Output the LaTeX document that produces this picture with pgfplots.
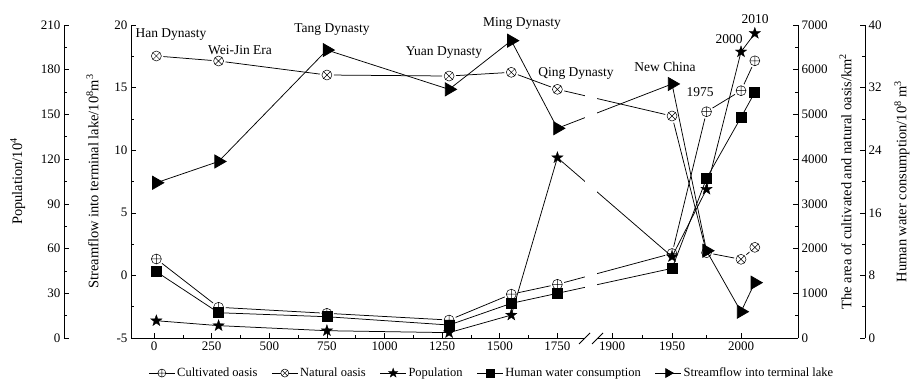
\documentclass[border=0pt]{standalone}
\usepackage{fontspec}
\setmainfont{Liberation Serif}
\usepackage{pgfplots}
\pgfplotsset{compat=1.18}
\usetikzlibrary{plotmarks}

\pgfdeclareplotmark{fstar}{%
  \pgfpathmoveto{\pgfpointpolar{90}{\pgfplotmarksize}}%
  \pgfpathlineto{\pgfpointpolar{126}{0.4\pgfplotmarksize}}%
  \pgfpathlineto{\pgfpointpolar{162}{\pgfplotmarksize}}%
  \pgfpathlineto{\pgfpointpolar{198}{0.4\pgfplotmarksize}}%
  \pgfpathlineto{\pgfpointpolar{234}{\pgfplotmarksize}}%
  \pgfpathlineto{\pgfpointpolar{270}{0.4\pgfplotmarksize}}%
  \pgfpathlineto{\pgfpointpolar{306}{\pgfplotmarksize}}%
  \pgfpathlineto{\pgfpointpolar{342}{0.4\pgfplotmarksize}}%
  \pgfpathlineto{\pgfpointpolar{18}{\pgfplotmarksize}}%
  \pgfpathlineto{\pgfpointpolar{54}{0.4\pgfplotmarksize}}%
  \pgfpathclose
  \pgfusepathqfillstroke
}

\pgfplotsset{
  common/.style={
    scale only axis, width=667pt, height=313pt,
    at={(131pt,-338pt)}, anchor=south west,
    xmin=-100, xmax=2041.3,
    x coord trafo/.code={\pgfmathparse{##1<1800 ? 154+0.2305*##1 : (##1<1950 ? 612+1.2*(##1-1900) : 672+1.38*(##1-1950))}},
    tick align=inside, major tick length=5pt, minor tick length=3pt,
    tick style={black, line width=0.6pt},
    axis line style={black, line width=0.8pt},
    /pgf/number format/assume math mode=true,
    /pgf/number format/1000 sep={},
    scaled ticks=false,
    tick label style={font=\fontsize{13}{15}\selectfont},
    label style={font=\fontsize{14.5}{16}\selectfont},
  },
  ser/.style={black, line width=0.75pt},
}

\pgfplotstableread{
year cult nat pop water flow
10   1767 6307 11.6 8.47 7.4
280  687  6195 8.3  3.23 9.1
750  552  5882 4.9  2.72 18.0
1280 402  5859 3.6  1.66 14.86
1550 980  5942 15.4 4.43 18.75
1750 1201 5562 121  5.71 11.75
1950 1890 4965 54.6 8.9  15.29
1975 5061 1908 99.8 20.4 1.97
2000 5531 1760 192  28.2 -2.9
2010 6200 2028 204.4 31.4 -0.58
}\data

\begin{document}
\begin{tikzpicture}
% ---- area axis (oasis), carries the x axis
\begin{axis}[common,
  axis x line*=bottom, axis y line*=right,
  ymin=0, ymax=7000,
  ytick={0,1000,...,7000}, minor ytick={500,1500,...,6500},
  xtick={0,250,500,750,1000,1250,1500,1750,1900,1950,2000},
  xticklabels={0,250,500,750,1000,1250,1500,1750,1900,1950,2000},
  minor xtick={125,375,625,875,1125,1375,1625,1925,1975},
  ylabel={The area of cultivated and natural oasis/km\textsuperscript{2}},
  ylabel style={yshift=-5pt},
]
\addplot[ser] table[x=year,y=cult] {\data};
\addplot[only marks, mark=*, white, mark size=6.8pt] table[x=year,y=cult] {\data};
\addplot[only marks, mark=oplus*, mark size=5pt, mark options={fill=white, draw=black, line width=0.5pt}] table[x=year,y=cult] {\data};
\addplot[ser] table[x=year,y=nat] {\data};
\addplot[only marks, mark=*, white, mark size=6.8pt] table[x=year,y=nat] {\data};
\addplot[only marks, mark=otimes*, mark size=5pt, mark options={fill=white, draw=black, line width=0.5pt}] table[x=year,y=nat] {\data};
\end{axis}
% ---- population axis
\begin{axis}[common, hide x axis,
  axis y line*=left, axis y line shift=67pt,
  ymin=0, ymax=210,
  ytick={0,30,...,210}, minor ytick={15,45,...,195},
  ylabel={Population/10\textsuperscript{4}},
  ylabel style={yshift=9pt},
]
\addplot[ser, mark=fstar, mark size=6pt, mark options={solid, fill=black, line width=0.3pt}] table[x=year,y=pop] {\data};
\end{axis}
% ---- human water axis
\begin{axis}[common, hide x axis,
  axis y line*=right, axis y line shift=67pt,
  ymin=0, ymax=40,
  ytick={0,8,...,40}, minor ytick={4,12,...,36},
  ylabel={Human water consumption/10\textsuperscript{8} m\textsuperscript{3}},
  ylabel style={yshift=-6pt},
]
\addplot[ser, mark=square*, mark size=5pt, mark options={fill=black}] table[x=year,y=water] {\data};
\end{axis}
% ---- streamflow axis
\begin{axis}[common, hide x axis,
  axis y line*=left,
  ymin=-5, ymax=20,
  ytick={-5,0,...,20}, minor ytick={-2.5,2.5,...,17.5},
  ylabel={Streamflow into terminal lake/10\textsuperscript{8}m\textsuperscript{3}},
  ylabel style={yshift=9pt},
  legend style={at={(0.541,-0.112)}, anchor=center, draw=none, fill=none,
    legend columns=-1, font=\fontsize{12.5}{14}\selectfont,
    /tikz/every even column/.append style={column sep=12pt}},
  legend image code/.code={\draw[mark repeat=2,mark phase=2,#1] plot coordinates {(0pt,0pt) (13pt,0pt) (26pt,0pt)};},
]
\addlegendimage{ser, mark=oplus*, mark size=4pt, mark options={fill=white, line width=0.5pt}}
\addlegendentry{Cultivated oasis}
\addlegendimage{ser, mark=otimes*, mark size=4pt, mark options={fill=white, line width=0.5pt}}
\addlegendentry{Natural oasis}
\addlegendimage{ser, mark=fstar, mark size=5pt, mark options={fill=black, line width=0.3pt}}
\addlegendentry{Population}
\addlegendimage{ser, mark=square*, mark size=4pt, mark options={fill=black}}
\addlegendentry{Human water consumption}
\addlegendimage{ser, mark=triangle*, mark size=5pt, mark options={rotate=-90, fill=black}}
\addlegendentry{Streamflow into terminal lake}
\addplot[ser, mark=triangle*, mark size=7.5pt, mark options={rotate=-90, fill=black}, forget plot] table[x=year,y=flow] {\data};
\end{axis}
% ---- axis break
\fill[white] (585pt,-14pt) rectangle (597pt,-341pt);
\draw[line width=0.8pt] (579pt,-344pt) -- (590pt,-333pt);
\draw[line width=0.8pt] (592pt,-344pt) -- (603pt,-333pt);
% ---- annotations
\begin{scope}[every node/.style={font=\fontsize{13.5}{15}\selectfont, inner sep=0pt}]
\node at (171pt,-35pt) {Han Dynasty};
\node at (240pt,-50pt) {Wei-Jin Era};
\node at (332pt,-30pt) {Tang Dynasty};
\node at (444pt,-53pt) {Yuan Dynasty};
\node at (522pt,-23pt) {Ming Dynasty};
\node at (576pt,-73pt) {Qing Dynasty};
\node at (665pt,-67pt) {New China};
\node at (700pt,-92pt) {1975};
\node at (729pt,-39pt) {2000};
\node at (755pt,-19pt) {2010};
\end{scope}
\pgfresetboundingbox
\path[use as bounding box] (0pt,0pt) rectangle (912pt,-386pt);
\end{tikzpicture}
\end{document}
